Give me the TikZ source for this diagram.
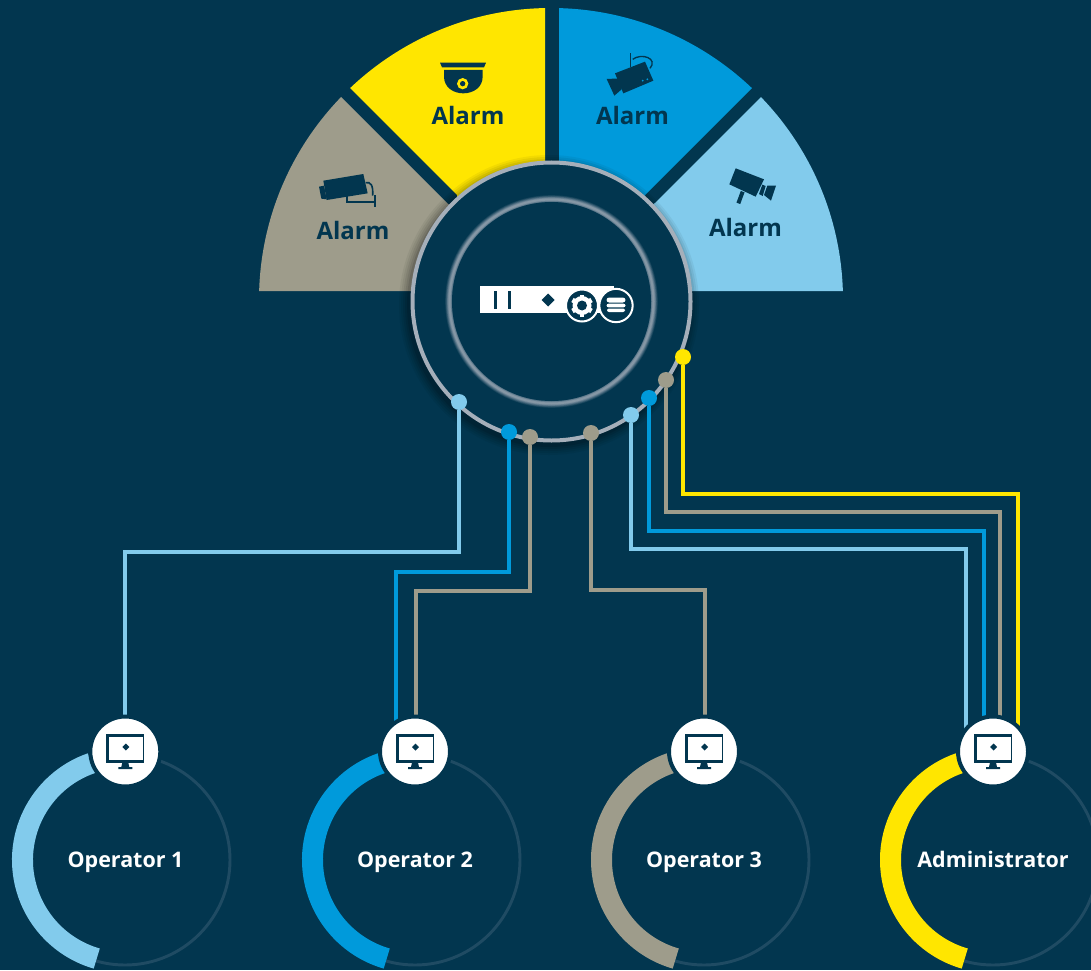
\documentclass[tikz,border=0pt]{standalone}
\usepackage{fontspec}
\setmainfont{Open Sans}
\definecolor{navy}{HTML}{02364F}
\definecolor{cyel}{HTML}{FFE600}
\definecolor{cblu}{HTML}{009ADB}
\definecolor{clbl}{HTML}{82CBEC}
\definecolor{cgry}{HTML}{9E9C8B}
\definecolor{cring}{HTML}{A5AFBA}
\definecolor{cthin}{HTML}{1F4B63}
\pgfdeclarelayer{base}
\pgfdeclarelayer{lines}
\pgfsetlayers{base,lines,main}
\tikzset{
  x=0.75pt,y=-0.75pt,
  alarm/.style={font=\fontsize{18}{20}\bfseries\selectfont,text=navy,inner sep=0pt,anchor=base},
  oplabel/.style={font=\fontsize{16.1}{18}\bfseries\selectfont,text=white,inner sep=0pt,anchor=base},
  dot/.style={circle,inner sep=0pt,minimum size=12pt,fill=#1},
  wire/.style={draw=#1,line width=3pt,line join=miter},
  monitor/.style={circle,inner sep=0pt,minimum size=52.5pt,fill=white,draw=navy,line width=3pt},
  zoomed/.style={x=0.25pt,y=-0.25pt},
  thickarc/.style={draw=#1,line width=15.75pt},
  thinring/.style={draw=cthin,line width=2.2pt},
}
\begin{document}
\begin{tikzpicture}
\useasboundingbox (0,0) rectangle (1091,970);
\begin{pgfonlayer}{base}
\fill[navy] (0,0) rectangle (1091,970);
% sectors
\begin{scope}
\clip (259,291) rectangle (843,0);
\clip (551,300) circle[radius=292];
\fill[cgry] (240,291) -- (240,-4) -- (447,203) -- (560,291) -- cycle;
\fill[cyel] (545,0) -- (545,300) -- (457,300) -- (457,195) -- (264,2) -- cycle;
\fill[cblu] (559,0) -- (559,300) -- (645,300) -- (645,195) -- (838,2) -- cycle;
\fill[clbl] (862,291) -- (862,-4) -- (655,203) -- (542,291) -- cycle;
\end{scope}
% monitors' rings
\foreach \cx/\col in {125/clbl,415/cblu,704/cgry,993/cyel}{
  \draw[thinring] (\cx,860) circle[radius=105];
  \draw[thickarc=\col] ({\cx+102.5*cos(109)},{860-102.5*sin(109)}) arc[start angle=-109,end angle=-254,radius=102.5];
}
% shadow of the hub
\foreach \r/\o in {150/0.05,148/0.06,146/0.07,144/0.08,142/0.1}{
  \fill[black,opacity=\o] (549,305) circle[radius=\r];
}
% hub
\fill[navy] (551.5,301.5) circle[radius=139];
\draw[cring,line width=3pt] (551.5,301.5) circle[radius=139];
\foreach \w/\o in {6.5/0.12,5.5/0.15,4.5/0.2,3.5/0.25,2.5/0.3,1.5/0.4}{
  \draw[cring,opacity=\o,line width=\w pt] (551.5,301.5) circle[radius=102];
}
\fill[navy] (551.5,301.5) circle[radius=99.5];
\end{pgfonlayer}
% server icon
\fill[white] (480,286) rectangle (614,313);
\fill[navy] (493.7,291) rectangle (496.7,309);
\fill[navy] (507.7,291) rectangle (510.7,309);
\fill[navy] (548,293.5) -- (554.5,300) -- (548,306.5) -- (541.5,300) -- cycle;
\node[circle,inner sep=0pt,minimum size=24pt,fill=navy,draw=white,line width=1.5pt] (gearbadge) at (582,305.5) {};
\node[circle,inner sep=0pt,minimum size=25pt,fill=navy,draw=white,line width=1.5pt] (dbbadge) at (616,305.5) {};
\begin{scope}[shift={(582,305.5)}]
  \fill[white] (0,0) circle[radius=9.5];
  \foreach \a in {30,90,150,210,270,330}{
    \draw[white,line width=3.6pt] (0,0) -- ({11*cos(\a)},{11*sin(\a)});
  }
  \fill[navy] (0,0) circle[radius=5];
\end{scope}
\begin{scope}[shift={(616,305.5)}]
  \fill[white,rounded corners=2pt] (-9.5,-8) rectangle (9.5,-3);
  \fill[white,rounded corners=1.5pt] (-9.5,-1.8) rectangle (9.5,1.8);
  \fill[white,rounded corners=1.5pt] (-9,3) rectangle (9,6.5);
\end{scope}
% cameras
\begin{scope}[shift={(300,40)},zoomed]
  % dome
  \fill[navy] (420,68) -- (558,68) -- (552,82) -- (426,82) -- cycle;
  \fill[navy] (432,90) -- (548,90) -- (548,110) .. controls (548,142) and (520,160) .. (490,160) .. controls (460,160) and (432,142) .. (432,110) -- cycle;
  \fill[cyel] (488,131) circle[radius=17];
  \fill[navy] (488,131) circle[radius=8];
  % left camera
  \fill[navy] (70,422) -- (190,402) -- (203,460) -- (80,480) -- cycle;
  \fill[navy] (57,440) -- (72,437) -- (80,478) -- (64,476) -- cycle;
  \draw[navy,line width=1.4pt] (140,468) -- (140,485) -- (225,485);
  \draw[navy,line width=2.2pt] (225,465) -- (225,500);
  \draw[navy,line width=1.2pt] (197,428) .. controls (212,425) and (220,435) .. (218,467);
\end{scope}
\begin{scope}[shift={(570,40)},zoomed]
  % wireless camera
  \fill[navy] (135,100) -- (225,65) -- (250,122) -- (160,160) -- cycle;
  \fill[navy] (110,117) -- (152,115) -- (155,148) -- (133,167) -- cycle;
  \draw[navy,line width=1pt] (182,40) -- (182,80);
  \draw[navy,line width=1pt] (188,58) .. controls (215,38) and (265,55) .. (240,85);
  \fill[cblu] (218,122) circle[radius=3];
  \fill[cblu] (232,118) circle[radius=3];
  % light camera
  \fill[navy] (497,385) -- (582,418) -- (557,470) -- (478,433) -- cycle;
  \fill[navy] (577,434) -- (587,438) -- (578,468) -- (567,462) -- cycle;
  \fill[navy] (592,437) -- (618,437) -- (603,482) -- (582,465) -- cycle;
  \draw[navy,line width=3pt] (518,455) -- (505,490);
\end{scope}
% alarm labels
\node[alarm] (al1) at (353,239) {Alarm};
\node[alarm] (al2) at (468,125) {Alarm};
\node[alarm] (al3) at (632.5,125) {Alarm};
\node[alarm] (al4) at (745.5,236) {Alarm};
% hub dots
\node[dot=clbl] (dA) at (459,402) {};
\node[dot=cblu] (dB) at (509,432) {};
\node[dot=cgry] (dC) at (530,437) {};
\node[dot=cgry] (dD) at (591,433) {};
\node[dot=clbl] (dE) at (631,415) {};
\node[dot=cblu] (dF) at (649,398) {};
\node[dot=cgry] (dG) at (666,380) {};
\node[dot=cyel] (dH) at (683,357) {};
% monitors
\foreach \n/\cx in {mA/125.3,mB/415,mC/704,mD/993}{
  \node[monitor] (\n) at (\cx,751.5) {};
  \begin{scope}[shift={(\cx,751.5)}]
    \fill[navy] (-19,-18) rectangle (19,11);
    \fill[white] (-16,-15) rectangle (18,8);
    \fill[navy] (-3,11) -- (3,11) -- (4,15.5) -- (7,15.5) -- (7,17.5) -- (-7,17.5) -- (-7,15.5) -- (-4,15.5) -- cycle;
    \fill[navy] (0.5,-8) -- (4,-4.5) -- (0.5,-1) -- (-3,-4.5) -- cycle;
  \end{scope}
}
% operator labels
\node[oplabel] (op1) at (125.5,867) {Operator 1};
\node[oplabel] (op2) at (415,867) {Operator 2};
\node[oplabel] (op3) at (704,867) {Operator 3};
\node[oplabel] (op4) at (993,867) {Administrator};
% connectors
\begin{pgfonlayer}{lines}
\draw[wire=clbl] (dA) -- (dA |- 0,552) -- (mA |- 0,552) -- (mA);
\draw[wire=cblu] (dB) -- (dB |- 0,572) -- (396,572) -- (mB -| 396,0);
\draw[wire=cgry] (dC) -- (dC |- 0,591) -- (416,591) -- (mB -| 416,0);
\draw[wire=cgry] (dD) -- (dD |- 0,590) -- (705,590) -- (mC -| 705,0);
\draw[wire=clbl] (dE) -- (dE |- 0,549) -- (966,549) -- (mD -| 966,0);
\draw[wire=cblu] (dF) -- (dF |- 0,531) -- (984,531) -- (mD -| 984,0);
\draw[wire=cgry] (dG) -- (dG |- 0,512) -- (1000,512) -- (mD -| 1000,0);
\draw[wire=cyel] (dH) -- (dH |- 0,494) -- (1018,494) -- (mD -| 1018,0);
\end{pgfonlayer}
\end{tikzpicture}
\end{document}
